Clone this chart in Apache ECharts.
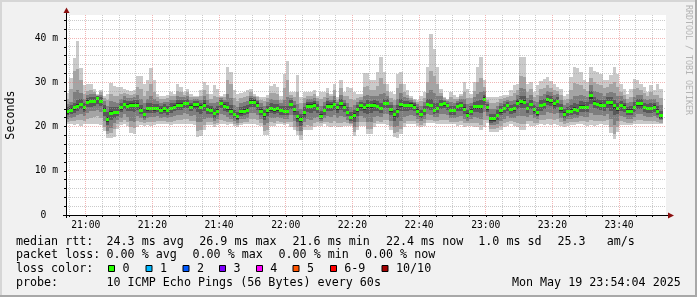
<!DOCTYPE html>
<html><head><meta charset="utf-8">
<script src="https://cdn.jsdelivr.net/npm/echarts@6/dist/echarts.min.js"></script>
<style>html,body{margin:0;padding:0;background:#f1f1f1}#c{width:697px;height:297px}</style>
</head><body><div id="c"></div><script>
// ---- data (ms) ----
const startTime = '20:54:04';
const stepMinutes = 1;
const spanMinutes = 180;
const median = [
23.3,23.7,24.2,24.5,25.0,24.2,25.5,25.6,25.7,26.3,
25.7,23.7,21.6,23.0,23.2,23.2,24.2,25.0,24.6,24.8,
24.8,24.8,23.7,22.7,24.0,24.1,24.0,24.1,23.7,24.0,
23.6,24.1,24.4,24.8,24.8,25.2,25.2,24.4,24.9,24.9,
24.4,24.8,23.8,23.7,22.9,23.5,25.3,24.6,24.2,23.5,
22.7,22.2,23.3,23.5,23.7,25.5,25.5,24.8,23.5,22.7,
23.6,24.1,23.8,24.0,23.6,23.4,23.4,25.0,23.8,22.2,
21.6,23.2,24.6,24.6,24.8,24.1,22.3,23.6,24.6,24.6,
25.0,24.2,25.1,24.4,23.2,22.0,22.6,23.8,24.7,24.2,
24.7,24.7,24.8,24.5,24.1,25.2,25.2,23.8,22.7,23.5,
25.0,24.7,24.7,24.8,24.4,23.5,22.7,23.6,25.0,24.7,
23.6,24.1,25.0,25.1,24.7,23.6,23.6,24.5,24.7,23.9,
22.6,23.5,24.5,24.5,24.5,26.2,24.2,21.7,21.7,22.5,
23.6,24.1,24.7,23.8,24.0,25.3,25.6,25.5,24.1,25.0,
23.8,23.1,24.7,25.0,26.1,25.9,25.1,25.6,24.0,22.8,
23.4,23.5,23.9,23.6,24.4,24.4,24.3,26.9,25.3,25.0,
24.8,24.7,25.4,25.4,24.7,24.1,24.7,24.4,23.5,23.5,
24.3,25.1,25.1,24.3,24.1,24.1,24.4,23.5,22.4];
const ping1 = [
20.5,20.5,20.4,20.5,20.2,20.6,20.6,20.6,20.6,20.6,
20.4,19.0,17.3,17.3,17.7,19.5,20.3,20.5,20.2,18.6,
18.4,20.0,20.4,20.2,20.3,20.1,20.3,20.6,20.6,20.5,
20.6,20.4,20.5,20.6,20.5,20.6,20.6,20.5,20.3,17.6,
17.8,19.2,20.3,20.4,20.0,20.3,20.5,20.5,20.3,20.5,
20.1,19.8,20.4,20.5,20.6,20.6,20.5,20.4,20.2,18.1,
18.1,20.2,20.2,20.6,20.6,20.4,20.5,20.0,19.1,18.1,
17.0,19.1,19.1,19.1,19.8,20.2,20.2,20.6,20.2,19.8,
20.2,20.0,19.8,20.2,20.1,20.1,17.9,19.1,20.2,20.2,
18.3,18.3,19.8,20.6,20.5,20.5,20.4,19.1,17.6,17.5,
18.3,19.8,20.6,20.6,20.6,20.2,19.8,20.2,20.8,20.8,
20.8,20.6,20.6,20.6,20.6,20.6,20.6,20.2,20.4,19.8,
20.2,20.2,20.0,19.8,19.2,19.8,20.8,18.7,18.7,18.7,
19.1,19.8,20.2,20.6,20.2,19.8,19.3,19.3,20.6,20.2,
20.2,20.4,20.6,20.4,20.6,20.4,20.6,20.4,20.2,20.0,
20.2,20.4,20.4,20.6,20.5,20.4,20.2,20.3,20.1,20.4,
20.5,20.4,20.3,18.6,17.2,18.7,20.4,20.4,20.4,20.4,
20.5,20.6,20.6,20.6,20.6,20.6,20.6,20.6,20.6];
const ping2 = [
21.0,21.2,21.3,21.5,21.4,21.3,21.8,22.0,22.2,22.4,
22.0,20.0,18.2,18.5,19.5,20.5,21.0,21.5,21.0,19.8,
19.6,21.2,21.1,20.8,21.0,21.0,21.1,21.3,21.2,21.2,
21.1,21.1,21.3,21.5,21.4,21.6,21.6,21.3,21.3,19.0,
19.2,20.3,21.0,21.0,20.6,20.9,21.5,21.3,21.0,21.0,
20.6,20.3,20.9,21.0,21.1,21.8,21.7,21.4,20.8,19.0,
19.2,21.0,20.9,21.2,21.1,20.9,21.0,21.0,20.0,19.0,
18.0,20.0,20.3,20.2,20.8,21.0,20.7,21.1,21.1,20.8,
21.2,20.9,20.9,21.0,20.7,20.5,18.8,20.0,21.1,21.0,
19.4,19.5,20.8,21.3,21.1,21.5,21.5,20.1,18.6,18.7,
19.5,20.8,21.3,21.3,21.2,20.8,20.4,20.9,21.5,21.4,
21.3,21.2,21.5,21.5,21.4,21.1,21.1,21.0,21.2,20.7,
20.7,20.9,20.9,20.8,20.4,21.5,21.4,19.5,19.5,19.6,
20.1,20.7,21.1,21.2,21.0,20.9,20.6,20.6,21.3,21.2,
20.9,20.9,21.4,21.4,21.8,21.6,21.5,21.6,21.0,20.6,
20.8,21.0,21.0,21.1,21.3,21.2,21.1,21.5,21.2,21.3,
21.3,21.2,21.4,19.8,18.4,19.8,21.2,21.1,20.9,20.9,
21.2,21.5,21.5,21.3,21.2,21.2,21.3,21.1,20.9];
const ping3 = [
21.8,22.0,22.2,22.5,22.8,22.3,23.0,23.4,23.6,23.8,
23.3,21.2,19.0,19.6,20.8,21.5,22.0,22.8,22.2,21.3,
21.0,22.4,22.0,21.4,22.0,22.1,22.1,22.3,22.0,22.2,
21.9,22.1,22.4,22.7,22.6,23.0,22.9,22.4,22.6,21.0,
21.0,21.8,22.0,21.9,21.3,21.8,22.8,22.5,22.1,21.8,
21.3,20.9,21.6,21.8,22.0,23.1,23.0,22.6,21.7,20.3,
20.8,22.0,21.9,22.1,21.9,21.7,21.8,22.5,21.3,20.0,
19.0,21.0,21.6,21.5,22.0,22.1,21.2,21.9,22.3,22.1,
22.5,22.0,22.3,22.1,21.5,20.9,19.9,21.1,22.3,22.0,
21.0,21.1,22.1,22.4,22.1,22.9,22.8,21.3,19.8,20.2,
21.2,22.1,22.4,22.5,22.3,21.7,21.2,21.8,22.8,22.6,
22.1,22.2,22.8,22.9,22.6,21.9,21.9,22.2,22.4,21.8,
21.3,21.7,22.1,22.0,21.8,23.2,22.3,20.3,20.3,20.6,
21.3,21.8,22.3,22.0,22.0,22.4,22.3,22.3,22.2,22.5,
21.9,21.6,22.5,22.6,23.2,23.0,22.8,23.0,22.0,21.3,
21.6,21.8,22.0,21.9,22.3,22.2,22.1,23.1,22.7,22.6,
22.5,22.4,22.8,21.6,20.3,21.3,22.4,22.2,21.8,21.8,
22.2,22.8,22.8,22.3,22.2,22.2,22.3,21.9,21.4];
const ping4 = [
22.5,22.8,23.1,23.5,23.9,23.2,24.3,24.5,24.7,25.1,
24.6,22.4,20.3,21.4,22.0,22.3,23.2,24.0,23.6,23.4,
23.3,23.7,22.8,22.0,23.0,23.1,23.0,23.2,22.8,23.1,
22.7,23.1,23.4,23.8,23.8,24.2,24.1,23.4,23.9,23.3,
22.9,23.4,22.9,22.8,22.0,22.6,24.1,23.6,23.2,22.6,
21.9,21.5,22.4,22.6,22.8,24.4,24.3,23.7,22.5,21.5,
22.3,23.0,22.8,23.0,22.7,22.5,22.5,23.9,22.6,21.0,
20.2,22.0,23.2,23.1,23.5,23.1,21.7,22.7,23.5,23.4,
23.8,23.1,23.8,23.3,22.3,21.3,21.0,22.4,23.5,23.1,
22.9,23.0,23.6,23.5,23.1,24.1,24.1,22.6,21.2,22.0,
23.4,23.5,23.6,23.7,23.4,22.6,21.9,22.7,24.0,23.7,
22.9,23.1,24.0,24.1,23.7,22.7,22.7,23.4,23.6,22.8,
21.9,22.5,23.3,23.2,23.1,24.9,23.2,20.9,21.0,21.5,
22.5,23.0,23.5,22.9,23.0,24.0,24.1,24.1,23.1,23.9,
22.8,22.3,23.6,23.9,24.8,24.6,24.0,24.4,23.0,22.0,
22.4,22.6,22.9,22.7,23.3,23.3,23.2,25.0,24.1,23.9,
23.7,23.6,24.2,23.6,22.6,22.8,23.6,23.3,22.6,22.6,
23.2,24.0,24.0,23.3,23.1,23.1,23.3,22.6,21.8];
const ping5 = [
22.9,23.3,23.8,24.1,24.6,23.8,25.1,25.2,25.3,25.9,
25.3,23.2,21.1,22.5,22.8,22.8,23.8,24.6,24.2,24.3,
24.3,24.4,23.3,22.3,23.6,23.7,23.6,23.7,23.3,23.6,
23.2,23.7,24.0,24.4,24.4,24.8,24.8,24.0,24.5,24.4,
23.9,24.3,23.4,23.3,22.5,23.1,24.8,24.2,23.8,23.1,
22.3,21.8,22.9,23.1,23.3,25.1,25.1,24.4,23.1,22.2,
23.1,23.6,23.3,23.6,23.2,23.0,23.0,24.6,23.3,21.7,
21.0,22.7,24.1,24.1,24.3,23.7,22.0,23.2,24.2,24.1,
24.6,23.8,24.7,24.0,22.8,21.6,21.9,23.2,24.2,23.8,
24.1,24.1,24.4,24.1,23.7,24.8,24.8,23.3,22.1,23.0,
24.5,24.3,24.3,24.4,24.0,23.1,22.3,23.2,24.6,24.3,
23.2,23.7,24.6,24.7,24.3,23.2,23.2,24.1,24.3,23.5,
22.2,23.1,24.0,24.0,23.9,25.7,23.8,21.3,21.3,22.1,
23.1,23.7,24.3,23.4,23.6,24.9,25.1,25.0,23.7,24.6,
23.3,22.7,24.3,24.6,25.6,25.4,24.7,25.2,23.6,22.4,
23.0,23.1,23.5,23.2,24.0,24.0,23.9,26.3,24.9,24.6,
24.4,24.3,25.0,24.8,23.9,23.6,24.3,24.0,23.1,23.1,
23.9,24.7,24.7,23.9,23.7,23.7,24.0,23.1,22.0];
const ping6 = [
23.7,24.1,24.6,25.0,25.4,24.6,25.9,26.0,26.1,26.6,
26.1,24.2,22.2,23.5,23.6,23.6,24.6,25.4,25.0,25.2,
25.2,25.2,24.1,23.1,24.4,24.5,24.4,24.5,24.1,24.4,
24.0,24.5,24.8,25.2,25.2,25.6,25.6,24.8,25.3,25.3,
24.8,25.2,24.2,24.1,23.3,23.9,25.6,25.0,24.6,23.9,
23.1,22.6,23.7,23.9,24.1,25.9,25.9,25.2,23.9,23.1,
24.0,24.5,24.2,24.4,24.0,23.8,23.8,25.4,24.2,22.7,
22.1,23.6,25.0,25.0,25.2,24.5,22.8,24.0,25.0,25.0,
25.4,24.6,25.5,24.8,23.6,22.4,23.0,24.2,25.1,24.6,
25.1,25.1,25.2,24.9,24.5,25.6,25.6,24.2,23.1,23.9,
25.4,25.1,25.1,25.2,24.8,23.9,23.1,24.0,25.4,25.1,
24.0,24.5,25.4,25.4,25.0,24.0,24.0,24.9,25.1,24.3,
23.0,23.9,24.9,24.9,24.9,26.6,24.6,22.1,22.1,22.9,
24.0,24.5,25.1,24.2,24.4,25.7,26.0,25.9,24.5,25.4,
24.2,23.5,25.1,25.4,26.5,26.3,25.5,26.0,24.4,23.2,
23.8,23.9,24.3,24.0,24.8,24.8,24.7,27.3,25.7,25.4,
25.2,25.1,25.8,25.8,25.1,24.5,25.1,24.8,23.9,23.9,
24.7,25.5,25.5,24.7,24.5,24.5,24.8,23.9,22.8];
const ping7 = [
24.3,24.8,25.4,26.0,26.2,25.3,26.5,26.6,26.7,26.9,
26.6,24.9,23.3,24.5,24.4,24.3,25.3,26.0,25.7,25.8,
25.9,26.0,24.9,23.9,25.2,25.4,25.1,25.1,24.7,25.0,
24.7,25.2,25.4,25.9,25.9,26.1,26.2,25.4,25.8,25.8,
25.4,25.9,24.9,24.7,24.1,24.6,26.0,25.5,25.5,24.8,
23.8,23.3,24.4,24.6,24.8,26.4,26.3,25.7,24.5,23.8,
24.7,25.2,25.0,25.1,24.6,24.6,24.7,25.9,24.9,23.6,
22.9,24.4,25.6,25.6,25.8,25.1,23.6,24.7,25.7,25.5,
26.1,25.1,26.2,25.4,24.4,23.2,23.8,24.9,25.6,25.4,
25.9,25.8,25.9,25.7,25.4,26.3,26.2,24.8,23.8,24.8,
26.2,25.8,25.7,25.6,25.2,24.4,23.8,24.7,26.2,26.3,
25.2,25.4,26.0,25.8,25.4,24.7,24.6,25.3,25.6,25.1,
23.8,24.6,25.6,25.8,25.9,27.2,25.1,22.9,22.9,23.7,
24.6,25.1,25.6,24.9,25.1,26.3,26.9,26.8,25.3,26.1,
24.9,24.4,25.9,26.2,27.2,27.0,26.2,26.6,25.1,23.9,
24.5,24.8,25.3,25.0,25.7,25.6,25.5,28.1,26.6,26.3,
26.1,25.9,26.6,26.7,26.1,25.4,25.8,25.4,24.5,24.6,
25.5,26.2,26.2,25.4,25.1,25.2,25.4,24.6,23.6];
const ping8 = [
25.0,25.6,27.8,28.2,27.5,26.3,27.2,27.4,27.3,27.0,
27.1,25.7,24.6,25.8,25.6,25.3,26.2,26.8,26.5,26.5,
26.6,27.2,26.3,25.2,26.3,26.8,26.2,25.8,25.4,25.6,
25.5,26.0,26.1,26.8,26.7,26.6,26.9,26.0,26.2,26.2,
26.1,26.8,25.9,25.4,25.2,25.5,26.4,26.1,27.3,26.5,
24.9,24.4,25.3,25.5,25.7,27.0,26.7,26.1,25.2,24.7,
25.5,26.2,26.0,26.0,25.3,26.0,26.6,26.5,25.7,25.0,
24.0,25.3,26.2,26.3,26.5,25.7,24.7,25.6,26.5,26.1,
27.0,25.6,27.2,26.0,25.4,24.4,24.8,25.6,26.1,26.8,
27.2,26.9,26.9,27.0,27.3,27.5,27.0,25.6,24.8,26.2,
27.5,26.7,26.4,26.0,25.6,25.0,24.7,25.5,27.6,28.3,
27.5,27.0,26.8,26.1,25.8,25.6,25.4,25.8,26.2,26.2,
25.0,25.4,26.6,27.3,27.8,28.0,25.6,24.0,24.0,24.6,
25.4,25.8,26.1,25.8,26.1,27.2,28.6,28.4,26.4,27.1,
25.7,25.5,27.0,27.3,28.1,27.8,27.1,27.3,26.0,24.8,
25.3,26.2,27.0,26.8,27.2,26.8,26.6,29.3,28.0,27.7,
27.5,27.0,27.6,27.9,27.6,26.8,26.8,26.2,25.3,25.5,
26.7,27.2,27.1,26.3,25.9,26.3,26.2,25.6,24.8];
const ping9 = [
26.2,28.5,32.5,33.0,30.5,27.4,28.0,28.2,27.9,27.2,
27.7,26.4,26.0,27.4,27.0,26.8,27.3,27.5,27.3,27.2,
27.4,29.0,28.5,27.0,28.0,29.5,27.8,26.6,26.2,26.3,
26.4,26.9,26.8,28.0,27.7,27.2,27.7,26.7,26.6,26.6,
27.0,28.2,27.3,26.3,26.8,26.7,26.7,26.7,30.5,29.5,
26.4,25.8,26.4,26.6,26.9,27.7,27.0,26.6,25.9,25.7,
26.4,27.6,27.6,27.4,26.1,28.8,30.5,27.1,26.6,27.8,
25.3,26.4,27.0,27.0,27.4,26.4,26.2,26.6,27.6,26.8,
28.2,26.1,28.7,26.8,26.9,26.2,26.0,26.5,26.7,29.0,
29.2,28.3,28.3,29.2,31.0,29.5,28.0,26.5,25.9,28.6,
29.5,27.9,27.2,26.4,26.0,25.6,25.8,26.5,30.0,32.5,
31.5,29.5,27.6,26.4,26.0,26.6,26.3,26.2,26.8,27.8,
26.5,26.4,28.0,30.0,31.0,29.0,26.1,25.3,25.4,25.6,
26.2,26.5,26.7,26.9,27.5,28.3,31.5,31.2,27.8,28.4,
26.6,27.1,28.4,28.8,29.3,28.8,28.2,28.1,27.1,25.9,
26.3,28.3,29.8,29.6,29.4,28.4,28.1,31.0,30.0,29.7,
29.4,28.6,28.9,29.5,30.0,28.9,27.9,27.1,26.3,26.7,
28.4,28.6,28.2,27.5,26.8,27.8,27.2,27.2,26.4];
const ping10 = [
27.5,31.0,35.5,39.3,33.3,29.3,29.5,29.5,28.5,27.4,
28.3,27.0,27.4,29.8,29.2,28.9,28.9,28.4,28.2,28.0,
28.2,31.4,31.4,29.6,30.4,33.2,30.4,27.4,27.0,26.8,
27.2,27.8,27.4,29.6,28.9,27.7,28.5,27.4,27.0,27.0,
28.2,30.0,29.3,27.4,29.3,28.5,27.0,27.3,33.4,32.3,
28.2,27.4,27.6,27.8,28.3,28.4,27.3,27.0,26.6,26.6,
27.2,29.2,29.5,29.0,27.0,31.9,34.9,27.7,27.7,31.7,
26.6,27.7,27.7,27.7,28.3,27.0,27.7,27.7,28.8,27.4,
29.6,26.6,30.5,27.7,29.0,28.7,27.7,27.4,27.4,32.0,
32.0,30.5,30.5,32.3,35.8,32.3,29.6,27.7,27.4,31.9,
32.3,29.6,28.3,26.8,26.3,26.1,27.0,27.7,33.4,40.8,
37.5,33.4,28.5,26.6,26.2,27.7,27.2,26.6,27.4,30.0,
28.5,27.4,30.0,33.5,35.6,30.4,26.6,26.6,26.6,26.6,
27.0,27.2,27.2,28.2,29.3,29.6,35.6,35.6,29.6,30.0,
27.7,29.3,30.2,30.8,31.1,30.2,29.6,28.9,28.5,27.0,
27.4,31.1,33.4,33.2,32.3,30.5,30.0,33.5,32.6,32.3,
31.9,30.5,30.5,31.6,33.4,31.9,29.6,28.5,27.4,28.5,
30.8,30.5,29.6,28.9,27.7,29.4,28.2,29.6,28.5];

// ---- axes ----
const xTickLabels = ['21:00','21:20','21:40','22:00','22:20','22:40','23:00','23:20','23:40'];
const yTickValues = [0, 10, 20, 30, 40];
const yTickLabels = ['0  ', '10 m', '20 m', '30 m', '40 m'];
const yMax = 45.2;
const yAxisTitle = 'Seconds';
const watermark = 'RRDTOOL / TOBI OETIKER';

// ---- legend texts ----
const legendRow1 = ['median rtt:', '24.3 ms avg', '26.9 ms max', '21.6 ms min', '22.4 ms now', '1.0 ms sd', '25.3   am/s'];
const legendRow2 = ['packet loss:', '0.00 % avg', '0.00 % max', '0.00 % min', '0.00 % now'];
const lossTitle = 'loss color:';
const lossLabels = ['0', '1', '2', '3', '4', '5', '6-9', '10/10'];
const lossColors = ['#26ff00', '#00b8ff', '#0059ff', '#7e00ff', '#ff00ff', '#ff5500', '#ff0000', '#a10000'];
const probeTitle = 'probe:';
const probeText = '10 ICMP Echo Pings (56 Bytes) every 60s';
const dateText = 'Mon May 19 23:54:04 2025';

// ---- build ----
const toMin = s => { const p = s.split(':').map(Number); return p[0] * 60 + p[1] + (p[2] || 0) / 60; };
const tStart = toMin(startTime);
const tEnd = tStart + spanMinutes;
const pings = [ping1, ping2, ping3, ping4, ping5, ping6, ping7, ping8, ping9, ping10];
const smokeRows = median.map((m, i) => [tStart + i * stepMinutes].concat(pings.map(p => p[i])));
const medianRows = median.map((m, i) => [tStart + i * stepMinutes, m]);
const xMajor = xTickLabels.map(toMin);
const xMinor = [];
for (let v = Math.ceil(tStart / 5) * 5; v <= tEnd; v += 5) xMinor.push(v);
const yMinor = [];
for (let v = 0; v < yMax; v += 2) yMinor.push(v);
const gridRows = [];
xMinor.forEach(v => gridRows.push([v, 0, xMajor.includes(v) ? 1 : 0]));
yMinor.forEach(v => { if (v > 0) gridRows.push([tStart, v, yTickValues.includes(v) ? 3 : 2]); });

const bandColors = ['#cacaca', '#a4a4a4', '#7e7e7e', '#585858', '#323232'];
const MONO = 'DejaVu Sans Mono';

function renderSmoke(params, api) {
  const t = api.value(0);
  const xa = Math.round(api.coord([t, 0])[0]);
  const xb = Math.round(api.coord([t + stepMinutes, 0])[0]);
  const children = [];
  for (let b = 0; b < 5; b++) {
    const lo = api.value(1 + b), hi = api.value(10 - b);
    const ya = Math.round(api.coord([t, hi])[1]);
    const yb = Math.round(api.coord([t, lo])[1]);
    children.push({ type: 'rect', shape: { x: xa, y: ya, width: xb - xa, height: Math.max(1, yb - ya) }, style: { fill: bandColors[b] } });
  }
  return { type: 'group', children };
}
function renderMedian(params, api) {
  const t = api.value(0), m = api.value(1);
  const p0 = api.coord([t, m]), p1 = api.coord([t + stepMinutes, m]);
  const xa = Math.round(p0[0]), xb = Math.round(p1[0]);
  return { type: 'rect', shape: { x: xa, y: Math.round(p0[1] - 1.5), width: xb - xa, height: 3 }, style: { fill: lossColors[0] } };
}
function renderGrid(params, api) {
  const cs = params.coordSys;
  const kind = api.value(2);
  const major = kind === 1 || kind === 3;
  const style = { stroke: major ? 'rgba(230,120,120,0.55)' : 'rgba(160,160,160,0.55)', lineWidth: 1, lineDash: [1, 1], fill: null };
  if (kind < 2) {
    const x = Math.floor(api.coord([api.value(0), 0])[0]) + 0.5;
    return { type: 'line', shape: { x1: x, y1: cs.y, x2: x, y2: cs.y + cs.height }, style };
  }
  const y = Math.floor(api.coord([tStart, api.value(1)])[1]) + 0.5;
  return { type: 'line', shape: { x1: cs.x, y1: y, x2: cs.x + cs.width, y2: y }, style };
}

// ---- graphic decorations & legend ----
const FS = 11.7;
function txt(x, y, s, extra) {
  return Object.assign({ type: 'text', x, y, silent: true, style: { text: s, fontFamily: MONO, fontSize: FS, fill: '#000', align: 'left', verticalAlign: 'middle' } }, extra || {});
}
const rowY = [241.5, 255, 269, 283];
const row1X = [15.9, 106.5, 199.2, 292.5, 385.9, 478.3, 557.5];
const row2X = [15.9, 106.5, 192.5, 278.5, 364.9];
const boxX = [108, 145.5, 182.5, 219, 256, 292.5, 330, 381.5];
const boxLabelX = [122.5, 160, 197, 233.5, 270.2, 307, 344.2, 396];
const graphics = [];
graphics.push({ type: 'rect', silent: true, shape: { x: 0, y: 0, width: 697, height: 2 }, style: { fill: '#d6d6d6' } });
graphics.push({ type: 'rect', silent: true, shape: { x: 0, y: 0, width: 2, height: 297 }, style: { fill: '#d6d6d6' } });
graphics.push({ type: 'rect', silent: true, shape: { x: 0, y: 295, width: 697, height: 2 }, style: { fill: '#a8a8a8' } });
graphics.push({ type: 'rect', silent: true, shape: { x: 695, y: 0, width: 2, height: 297 }, style: { fill: '#a8a8a8' } });
graphics.push({ type: 'line', silent: true, z: 100, shape: { x1: 63, y1: 215.5, x2: 670, y2: 215.5 }, style: { stroke: '#000', lineWidth: 1 } });
graphics.push({ type: 'line', silent: true, z: 100, shape: { x1: 66.5, y1: 218, x2: 66.5, y2: 11 }, style: { stroke: '#000', lineWidth: 1 } });
graphics.push({ type: 'polygon', silent: true, z: 101, shape: { points: [[668, 212.5], [668, 218.5], [674, 215.5]] }, style: { fill: '#8b1010' } });
graphics.push({ type: 'polygon', silent: true, z: 101, shape: { points: [[63.5, 13], [69.5, 13], [66.5, 7.5]] }, style: { fill: '#8b1010' } });
graphics.push({ type: 'text', silent: true, x: 688, y: 60, rotation: -Math.PI / 2,
  style: { text: watermark, fontFamily: MONO, fontSize: 8.3, fill: '#b4b4b4', align: 'center', verticalAlign: 'middle' } });
legendRow1.forEach((s, i) => graphics.push(txt(row1X[i], rowY[0], s)));
legendRow2.forEach((s, i) => graphics.push(txt(row2X[i], rowY[1], s)));
graphics.push(txt(15.9, rowY[2], lossTitle));
lossLabels.forEach((s, i) => {
  graphics.push({ type: 'rect', silent: true, shape: { x: boxX[i] + 0.5, y: 265.5, width: 6, height: 6 }, style: { fill: lossColors[i], stroke: '#000', lineWidth: 1 } });
  graphics.push(txt(boxLabelX[i], rowY[2], s));
});
graphics.push(txt(15.9, rowY[3], probeTitle));
graphics.push(txt(106.5, rowY[3], probeText));
graphics.push(txt(511.9, rowY[3], dateText));

const chart = echarts.init(document.getElementById('c'), null, { renderer: 'canvas', width: 697, height: 297 });
chart.setOption({
  backgroundColor: '#f1f1f1',
  animation: false,
  grid: { left: 66, top: 15, width: 600, height: 200, show: true, backgroundColor: '#ffffff', borderWidth: 0,
    containLabel: false, outerBoundsMode: 'none' },
  xAxis: {
    type: 'value', min: tStart, max: tEnd,
    axisLine: { show: false }, splitLine: { show: false },
    axisTick: { show: true, customValues: xMinor, length: 2, lineStyle: { color: '#000' } },
    axisLabel: { customValues: xMajor, formatter: v => xTickLabels[xMajor.indexOf(v)] || '',
      fontFamily: MONO, fontSize: 9.7, color: '#000', margin: 5 }
  },
  yAxis: {
    type: 'value', min: 0, max: yMax,
    axisLine: { show: false }, splitLine: { show: false },
    axisTick: { show: true, customValues: yMinor, length: 2, lineStyle: { color: '#000' } },
    axisLabel: { customValues: yTickValues, formatter: v => yTickLabels[yTickValues.indexOf(v)] || '',
      fontFamily: MONO, fontSize: 9.7, color: '#000', margin: 8 },
    name: yAxisTitle, nameLocation: 'middle', nameGap: 49,
    nameTextStyle: { fontFamily: MONO, fontSize: FS, color: '#000' }
  },
  series: [
    { type: 'custom', name: 'smoke', z: 2, silent: true, renderItem: renderSmoke, encode: { x: 0, y: [1, 10] }, data: smokeRows, clip: true },
    { type: 'custom', name: 'median', z: 3, silent: true, renderItem: renderMedian, encode: { x: 0, y: 1 }, data: medianRows, clip: true },
    { type: 'custom', name: 'grid', z: 4, silent: true, renderItem: renderGrid, encode: { x: 0, y: 1 }, data: gridRows, clip: false }
  ],
  graphic: graphics
});
</script></body></html>
